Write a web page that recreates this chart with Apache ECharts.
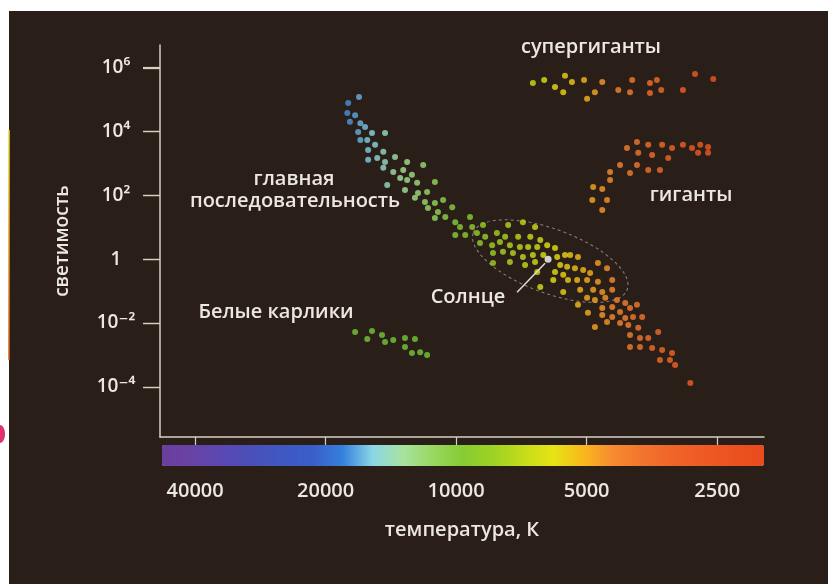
<!DOCTYPE html>
<html>
<head>
<meta charset="utf-8">
<title>Диаграмма Герцшпрунга — Рассела</title>
<script src="https://cdn.jsdelivr.net/npm/echarts@6/dist/echarts.min.js"></script>
<style>
    html, body { margin: 0; padding: 0; background: #fff; }
    #chart { width: 828px; height: 584px; }
</style>
</head>
<body>
<div id="chart"></div>
<script>
// данные: [lg T, lg L]
const mainSeq = [
    [4.224, 5.08], [4.249, 4.89], [4.251, 4.58], [4.233, 4.51], [4.245, 4.30], [4.221, 4.26],
    [4.210, 4.14], [4.226, 3.98], [4.194, 3.95], [4.164, 3.95], [4.221, 3.73], [4.205, 3.73],
    [4.187, 3.58], [4.203, 3.42], [4.168, 3.36], [4.203, 3.11], [4.182, 3.17], [4.164, 3.04],
    [4.141, 3.20], [4.113, 3.04], [4.076, 2.95], [4.168, 2.86], [4.145, 2.73], [4.122, 2.79],
    [4.102, 2.64], [4.129, 2.54], [4.113, 2.48], [4.090, 2.39], [4.049, 2.42], [4.159, 2.32],
    [4.118, 2.17], [4.088, 2.07], [4.067, 2.10], [4.095, 1.92], [4.072, 1.79], [4.049, 1.76],
    [4.030, 1.85], [4.065, 1.60], [4.042, 1.48], [4.009, 1.63], [4.025, 1.32], [4.049, 1.29],
    [4.002, 1.16], [3.968, 1.32], [3.991, 1.01], [3.979, 0.76], [4.002, 0.76], [3.963, 1.01],
    [3.938, 1.07], [3.880, 1.07], [3.846, 1.16], [3.818, 1.01], [3.952, 0.82], [3.933, 0.70],
    [3.906, 0.82], [3.887, 0.70], [3.857, 0.70], [3.829, 0.70], [3.806, 0.60], [3.945, 0.51],
    [3.917, 0.44], [3.899, 0.54], [3.876, 0.44], [3.853, 0.38], [3.834, 0.38], [3.813, 0.38],
    [3.790, 0.44], [3.772, 0.35], [3.915, 0.19], [3.892, 0.23], [3.869, 0.19], [3.846, 0.07],
    [3.823, 0.13], [3.799, 0.13], [3.767, 0.07], [3.749, 0.13], [3.915, -0.12], [3.876, -0.09],
    [3.841, -0.18], [3.818, -0.09], [3.760, -0.18], [3.744, -0.24], [3.813, -0.40], [3.772, -0.40],
    [3.753, -0.49], [3.776, -0.65], [3.806, -0.87], [3.753, -1.03], [3.737, 0.13], [3.719, 0.07],
    [3.726, -0.28], [3.707, -0.34], [3.691, -0.43], [3.673, -0.12], [3.652, -0.28], [3.742, -0.65],
    [3.721, -0.65], [3.698, -0.65], [3.673, -0.71], [3.640, -0.65], [3.714, -0.96], [3.684, -0.96],
    [3.663, -1.03], [3.640, -0.96], [3.698, -1.21], [3.680, -1.28], [3.656, -1.21], [3.629, -1.28],
    [3.610, -1.37], [3.583, -1.43], [3.719, -1.43], [3.663, -1.53], [3.640, -1.50], [3.622, -1.65],
    [3.599, -1.53], [3.696, -1.68], [3.663, -1.75], [3.640, -1.81], [3.610, -1.84], [3.592, -1.81],
    [3.571, -1.81], [3.680, -2.12], [3.652, -1.97], [3.622, -2.00], [3.603, -2.06], [3.580, -2.15],
    [3.534, -2.28], [3.599, -2.37], [3.576, -2.47], [3.557, -2.47], [3.599, -2.75], [3.576, -2.75],
    [3.548, -2.78], [3.525, -2.84], [3.502, -2.94], [3.530, -3.16], [3.507, -3.16], [3.495, -3.31],
    [3.460, -3.88]
];

const giants = [
    [3.583, 3.67], [3.557, 3.58], [3.525, 3.58], [3.502, 3.48], [3.477, 3.58], [3.456, 3.48],
    [3.437, 3.58], [3.419, 3.51], [3.419, 3.33], [3.442, 3.33], [3.606, 3.48], [3.580, 3.33],
    [3.548, 3.26], [3.511, 3.17], [3.622, 2.95], [3.583, 2.95], [3.557, 2.79], [3.530, 2.79],
    [3.599, 2.70], [3.645, 2.73], [3.645, 2.48], [3.684, 2.26], [3.663, 2.20], [3.686, 1.85],
    [3.652, 1.85], [3.663, 1.54]
];

const supergiants = [
    [3.823, 5.52], [3.797, 5.61], [3.772, 5.39], [3.749, 5.74], [3.733, 5.55], [3.753, 5.23],
    [3.705, 5.61], [3.680, 5.23], [3.698, 5.02], [3.663, 5.55], [3.626, 5.30], [3.599, 5.23],
    [3.594, 5.61], [3.553, 5.52], [3.537, 5.61], [3.527, 5.30], [3.553, 5.20], [3.477, 5.30],
    [3.449, 5.80], [3.407, 5.64]
];

const whiteDwarfs = [
    [4.233, -2.28], [4.194, -2.25], [4.205, -2.50], [4.171, -2.37], [4.164, -2.59], [4.145, -2.53],
    [4.118, -2.47], [4.118, -2.75], [4.095, -2.50], [4.102, -2.94], [4.083, -2.91], [4.067, -3.00]
];

const sun = [[3.788, 0]];

// подписи осей
const tempTicks = [40000, 20000, 10000, 5000, 2500];
const lumTicks = [6, 4, 2, 0, -2, -4];
const lumLabels = ['10\u2076', '10\u2074', '10\u00B2', '1', '10\u207B\u00B2', '10\u207B\u2074'];

// от холодных (min) к горячим (max)
const barColors = [
    '#e84c1c', '#ec5220', '#ee5a24', '#f06428', '#f2742c', '#f78a30', '#f8b81c',
    '#e6e414', '#c4dc1a', '#9ed224', '#86cc34', '#98d860', '#a8e2a0', '#8ad6e6',
    '#3580dc', '#3a5ec8', '#3f58c2', '#4a50ba', '#5a48b2', '#6843a6', '#6b3e9c'
];

const FONT = '"Open Sans", "DejaVu Sans", sans-serif';
const TEXT = '#ece7e1';
const AXIS = '#d6cfc6';
const FS = 20;

const chart = echarts.init(document.getElementById('chart'));

const option = {
    animation: false,
    backgroundColor: '#2a1f18',
    grid: { left: 160, right: 64, top: 45, bottom: 147 },
    xAxis: {
        type: 'value',
        inverse: true,
        min: 3.290,
        max: 4.683,
        name: 'температура, К',
        nameLocation: 'middle',
        nameGap: 83,
        nameTextStyle: { color: TEXT, fontFamily: FONT, fontSize: FS, fontWeight: 600 },
        axisLine: { onZero: false, lineStyle: { color: AXIS, width: 1.5 } },
        axisTick: {
            customValues: tempTicks.map(Math.log10),
            length: 8,
            lineStyle: { color: AXIS, width: 1.2 }
        },
        axisLabel: {
            customValues: tempTicks.map(Math.log10),
            formatter: v => String(Math.round(Math.pow(10, v))),
            margin: 44,
            color: TEXT,
            fontFamily: FONT,
            fontSize: FS,
            fontWeight: 600
        },
        splitLine: { show: false }
    },
    yAxis: {
        type: 'value',
        min: -5.567,
        max: 6.706,
        name: 'светимость',
        nameLocation: 'middle',
        nameGap: 88,
        nameTextStyle: { color: TEXT, fontFamily: FONT, fontSize: FS - 1, fontWeight: 600 },
        axisLine: { show: true, onZero: false, lineStyle: { color: AXIS, width: 1.5 } },
        axisTick: {
            show: true,
            customValues: lumTicks,
            length: 17,
            lineStyle: { color: AXIS, width: 1.2 }
        },
        axisLabel: {
            customValues: lumTicks,
            formatter: v => {
                const i = lumTicks.findIndex(t => Math.abs(t - v) < 1e-6);
                return i >= 0 ? lumLabels[i] : '';
            },
            align: 'center',
            margin: 44,
            color: TEXT,
            fontFamily: FONT,
            fontSize: FS - 1,
            fontWeight: 600
        },
        splitLine: { show: false }
    },
    visualMap: {
        type: 'continuous',
        seriesIndex: [0, 1, 2],
        dimension: 0,
        min: 3.290,
        max: 4.683,
        orient: 'horizontal',
        inverse: true,
        left: 162,
        top: 445,
        padding: 0,
        itemWidth: 21,
        itemHeight: 602,
        calculable: false,
        hoverLink: false,
        text: null,
        showLabel: false,
        inRange: { color: barColors }
    },
    series: [
        { name: 'главная последовательность', type: 'scatter', data: mainSeq, symbolSize: 6 },
        { name: 'гиганты', type: 'scatter', data: giants, symbolSize: 6 },
        { name: 'супергиганты', type: 'scatter', data: supergiants, symbolSize: 6 },
        { name: 'Белые карлики', type: 'scatter', data: whiteDwarfs, symbolSize: 6, itemStyle: { color: '#74c83a' } },
        { name: 'Солнце', type: 'scatter', data: sun, symbolSize: 7, itemStyle: { color: '#ffffff' }, z: 5 }
    ]
};

chart.setOption(option);

// подписи, засечки и эллипс вокруг Солнца
const sunPx = chart.convertToPixel({ gridIndex: 0 }, sun[0]);
const zonePx = chart.convertToPixel({ gridIndex: 0 }, [3.783, -0.06]);
const axisX = chart.convertToPixel({ xAxisIndex: 0 }, 4.683);

function label(text, x, y) {
    return {
        type: 'text', x: x, y: y, z: 10,
        style: {
            text: text, fill: TEXT, align: 'center', verticalAlign: 'middle',
            font: '600 ' + FS + 'px ' + FONT
        }
    };
}

// засечки оси светимости на отдельном слое
const yTickMarks = lumTicks.map(t => {
    const p = Math.round(chart.convertToPixel({ yAxisIndex: 0 }, t)) + 0.5;
    return {
        type: 'line', zlevel: 2, z: 100,
        shape: { x1: axisX - 17, y1: p, x2: axisX, y2: p },
        style: { stroke: AXIS, lineWidth: 1.3 }
    };
});

chart.setOption({
    graphic: [
        // белые поля скана
        { type: 'rect', left: 0, top: 0, z: 20, shape: { width: 828, height: 11 }, style: { fill: '#ffffff' } },
        { type: 'rect', left: 0, top: 0, z: 20, shape: { width: 9, height: 584 }, style: { fill: '#ffffff' } },
        {
            type: 'line', z: 21, shape: { x1: 9, y1: 130, x2: 9, y2: 360 },
            style: {
                lineWidth: 1.5,
                stroke: new echarts.graphic.LinearGradient(0, 0, 0, 1, [
                    { offset: 0, color: '#e6e030' },
                    { offset: 0.45, color: '#e8a020' },
                    { offset: 1, color: '#d85a1a' }
                ])
            }
        },
        { type: 'ellipse', z: 21, shape: { cx: 0, cy: 434, rx: 5, ry: 9 }, style: { fill: '#e0306e' } },
        ...yTickMarks,
        {
            type: 'ellipse', x: zonePx[0], y: zonePx[1], rotation: -0.353, z: 1,
            shape: { cx: 0, cy: 0, rx: 82, ry: 32 },
            style: { fill: null, stroke: '#8c847c', lineWidth: 1, lineDash: [3, 3] }
        },
        {
            type: 'line', z: 6,
            shape: { x1: sunPx[0] - 3, y1: sunPx[1] + 4, x2: sunPx[0] - 31, y2: sunPx[1] + 33 },
            style: { stroke: '#e0dbd5', lineWidth: 1.5 }
        },
        label('супергиганты', 591, 47),
        label('главная', 294, 179),
        label('последовательность', 295, 201),
        label('гиганты', 691, 195),
        label('Белые карлики', 276, 312),
        label('Солнце', 468, 297)
    ]
});
</script>
</body>
</html>
